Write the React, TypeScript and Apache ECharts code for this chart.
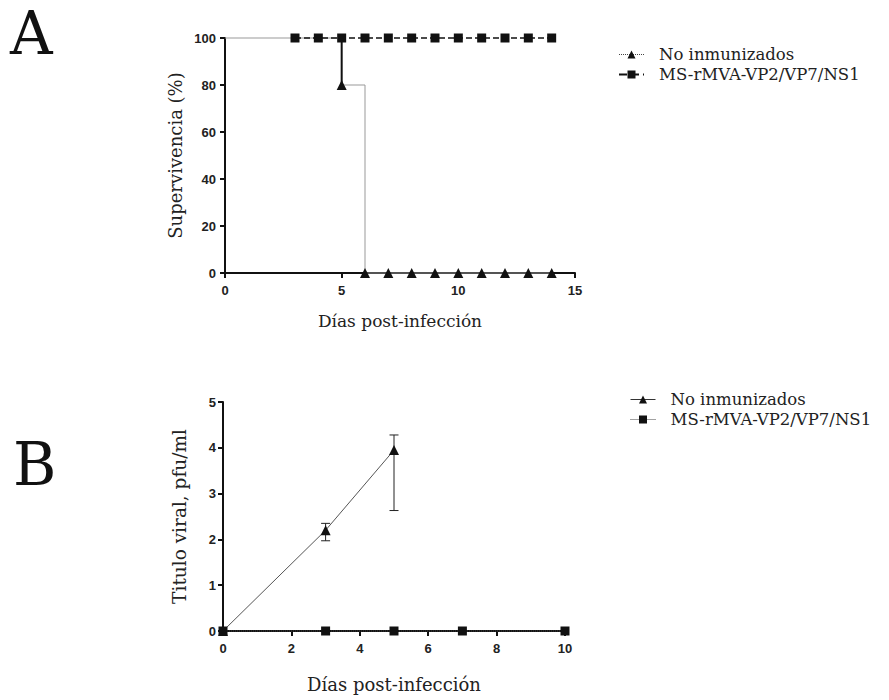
import React, { useEffect, useRef } from 'react';
import * as echarts from 'echarts';

const seriesNames = ['No inmunizados', 'MS-rMVA-VP2/VP7/NS1'];
const panelLetters = ['A', 'B'];

// Panel A: survival (%)
const survDaysNoInm = [0, 5, 6, 7, 8, 9, 10, 11, 12, 13, 14];
const survNoInm = [100, 80, 0, 0, 0, 0, 0, 0, 0, 0, 0];
const survDaysMS = [3, 4, 5, 6, 7, 8, 9, 10, 11, 12, 13, 14];
const survMS = [100, 100, 100, 100, 100, 100, 100, 100, 100, 100, 100, 100];
const survDeathDay = 5;
const survDeathFrom = 100;
const survDeathTo = 80;

// Panel B: viral titre
const titerDaysNoInm = [0, 3, 5];
const titerNoInm = [0, 2.2, 3.95];
const titerErrLow = [0, 1.97, 2.63];
const titerErrHigh = [0, 2.35, 4.28];
const titerDaysMS = [0, 3, 5, 7, 10];
const titerMS = [0, 0, 0, 0, 0];

const xTitle = 'Días post-infección';
const yTitleA = 'Supervivencia (%)';
const yTitleB = 'Titulo viral, pfu/ml';

const SERIF = '"DejaVu Serif", "Liberation Serif", serif';
const SANS = '"Liberation Sans", Arial, sans-serif';

function axisCommon() {
  return {
    axisLine: { show: true, onZero: false, lineStyle: { color: '#111', width: 2 } },
    axisTick: { show: true, length: 5, lineStyle: { color: '#111', width: 2 } },
    splitLine: { show: false },
    axisLabel: { fontFamily: SANS, fontWeight: 'bold', fontSize: 13, color: '#222' },
    nameLocation: 'middle',
    nameTextStyle: { fontFamily: SERIF, fontSize: 17, color: '#222' },
  };
}

export default function App() {
  const ref = useRef<HTMLDivElement>(null);
  useEffect(() => {
    if (!ref.current) return;
    const chart = echarts.init(ref.current, null, { renderer: 'svg' });
    const c = axisCommon();
    const legendText = { fontFamily: SERIF, fontSize: 16.5, lineHeight: 16, color: '#222', padding: [0, 0, 0, 10] };
    const option: any = {
      animation: false,
      backgroundColor: '#fff',
      graphic: [
        { type: 'text', left: 10, top: 4, style: { text: panelLetters[0], fontFamily: SERIF, fontSize: 59, fill: '#111' } },
        { type: 'text', left: 13, top: 435, style: { text: panelLetters[1], fontFamily: SERIF, fontSize: 59, fill: '#111' } },
      ],
      grid: [
        { left: 225, top: 38, width: 350, height: 235 },
        { left: 223, top: 402, width: 342, height: 229 },
      ],
      xAxis: [
        { ...c, gridIndex: 0, type: 'value', min: 0, max: 15, interval: 5, name: xTitle, nameGap: 39,
          axisLabel: { ...c.axisLabel, margin: 11 } },
        { ...c, gridIndex: 1, type: 'value', min: 0, max: 10, interval: 2, name: xTitle, nameGap: 44,
          axisLabel: { ...c.axisLabel, margin: 11 }, nameTextStyle: { ...c.nameTextStyle, fontSize: 18 } },
      ],
      yAxis: [
        { ...c, gridIndex: 0, type: 'value', min: 0, max: 100, interval: 20, name: yTitleA, nameGap: 41,
          axisLabel: { ...c.axisLabel, margin: 9 }, nameTextStyle: { ...c.nameTextStyle, fontSize: 18 } },
        { ...c, gridIndex: 1, type: 'value', min: 0, max: 5, interval: 1, name: yTitleB, nameGap: 34,
          axisLabel: { ...c.axisLabel, margin: 7 }, nameTextStyle: { ...c.nameTextStyle, fontSize: 18.5 } },
      ],
      legend: [
        {
          left: 618, top: 46, padding: 0, orient: 'vertical', itemWidth: 25, itemHeight: 10, itemGap: 3,
          textStyle: legendText,
          data: [
            { name: seriesNames[0], lineStyle: { type: 'dotted', color: '#444', width: 1 } },
            { name: seriesNames[1], lineStyle: { type: 'dashed', color: '#111', width: 2 } },
          ],
        },
        {
          left: 630, top: 391, padding: 0, orient: 'vertical', itemWidth: 25, itemHeight: 10, itemGap: 3,
          textStyle: legendText,
          data: [
            { name: seriesNames[0], lineStyle: { type: 'solid', color: '#333', width: 1 } },
            { name: seriesNames[1], lineStyle: { type: 'dotted', color: '#444', width: 1 } },
          ],
        },
      ],
      series: [
        {
          name: seriesNames[0], type: 'line', xAxisIndex: 0, yAxisIndex: 0, step: 'end', clip: false,
          symbol: 'triangle', symbolSize: 10,
          itemStyle: { color: '#111' },
          lineStyle: { color: '#999', width: 1 },
          data: survDaysNoInm.map((d, i) => (i === 0 ? { value: [d, survNoInm[i]], symbol: 'none' } : [d, survNoInm[i]])),
          z: 3,
        },
        {
          name: 'censor', type: 'line', xAxisIndex: 0, yAxisIndex: 0, symbol: 'none', clip: false,
          lineStyle: { color: '#111', width: 2 },
          data: [[survDeathDay, survDeathFrom], [survDeathDay, survDeathTo]],
          z: 3,
        },
        {
          name: seriesNames[1], type: 'line', xAxisIndex: 0, yAxisIndex: 0, clip: false,
          symbol: 'rect', symbolSize: 9,
          itemStyle: { color: '#111' },
          lineStyle: { color: '#111', width: 1.5, type: 'dashed' },
          data: survDaysMS.map((d, i) => [d, survMS[i]]),
          z: 4,
        },
        {
          name: seriesNames[0], type: 'line', xAxisIndex: 1, yAxisIndex: 1, clip: false,
          symbol: 'triangle', symbolSize: 10,
          itemStyle: { color: '#111' },
          lineStyle: { color: '#555', width: 1 },
          data: titerDaysNoInm.map((d, i) => [d, titerNoInm[i]]),
          z: 3,
        },
        {
          name: 'errors', type: 'custom', xAxisIndex: 1, yAxisIndex: 1,
          data: titerDaysNoInm
            .map((d, i) => [d, titerErrLow[i], titerErrHigh[i]])
            .filter((r) => r[2] > r[1]),
          renderItem: (params: any, api: any) => {
            const x = api.value(0);
            const top = api.coord([x, api.value(2)]);
            const bot = api.coord([x, api.value(1)]);
            const hw = 4.5;
            const st = { stroke: '#222', lineWidth: 1 };
            return {
              type: 'group',
              children: [
                { type: 'line', shape: { x1: top[0], y1: top[1], x2: bot[0], y2: bot[1] }, style: st },
                { type: 'line', shape: { x1: top[0] - hw, y1: top[1], x2: top[0] + hw, y2: top[1] }, style: st },
                { type: 'line', shape: { x1: bot[0] - hw, y1: bot[1], x2: bot[0] + hw, y2: bot[1] }, style: st },
              ],
            };
          },
          z: 2,
        },
        {
          name: seriesNames[1], type: 'line', xAxisIndex: 1, yAxisIndex: 1, clip: false,
          symbol: 'rect', symbolSize: 9,
          itemStyle: { color: '#111' },
          lineStyle: { color: '#444', width: 1, type: 'dotted' },
          data: titerDaysMS.map((d, i) => [d, titerMS[i]]),
          z: 4,
        },
      ],
    };
    chart.setOption(option);
    return () => chart.dispose();
  }, []);
  return <div ref={ref} style={{ position: 'fixed', left: 0, top: 0, width: 889, height: 700, background: '#fff' }} />;
}
